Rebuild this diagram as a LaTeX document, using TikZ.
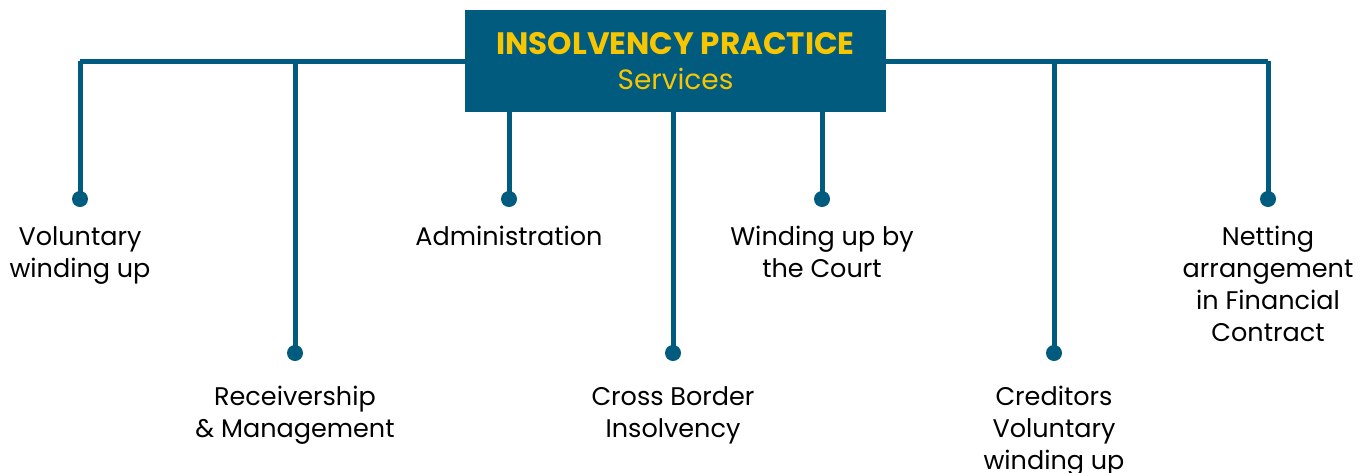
\documentclass[tikz,border=0pt]{standalone}
\usepackage{fontspec}
\setmainfont{Poppins}
\usetikzlibrary{positioning}
\definecolor{ipblue}{HTML}{005B7F}
\definecolor{ipgold}{HTML}{F7C600}
\tikzset{
  link/.style={draw=ipblue, line width=5pt},
  dot/.style={circle, fill=ipblue, minimum size=16pt, inner sep=0pt},
  lbl/.style={text=black, font=\fontsize{25.5}{32}\selectfont, align=center, inner sep=0pt}
}
\begin{document}
\begin{tikzpicture}[x=1pt, y=-1pt]
	\useasboundingbox (0,0) rectangle (1371,472);
	\draw[link] (80,61) coordinate (tl) -- (1268,61) coordinate (tr);
	\node[fill=ipblue, text=ipgold, minimum width=421pt, minimum height=102pt, inner sep=0pt, align=center,
		font=\fontsize{31}{37}\selectfont] (hd) at (675.5,61)
		{\raisebox{-2pt}{\bfseries INSOLVENCY PRACTICE}\\{\fontsize{28}{37}\selectfont Services}};
	
	\node[dot] (vw) at (80,199) {};
	\node[dot] (rm) at (295,353) {};
	\node[dot] (ad) at (509,199) {};
	\node[dot] (cb) at (673,353) {};
	\node[dot] (wc) at (822,199) {};
	\node[dot] (cv) at (1054,353) {};
	\node[dot] (na) at (1268,199) {};
	
	\draw[link] (tl) -- (vw.center);
	\draw[link] (tl -| rm) -- (rm.center);
	\draw[link] (hd.south -| ad) -- (ad.center);
	\draw[link] (hd.south -| cb) -- (cb.center);
	\draw[link] (hd.south -| wc) -- (wc.center);
	\draw[link] (tr -| cv) -- (cv.center);
	\draw[link] (tr) -- (na.center);
	
	\node[lbl, below=19pt of vw] {Voluntary\\winding up};
	\node[lbl, below=25pt of rm] {Receivership\\\& Management};
	\node[lbl, below=19pt of ad] {Administration};
	\node[lbl, below=25pt of cb] {Cross Border\\Insolvency};
	\node[lbl, below=19pt of wc] {Winding up by\\the Court};
	\node[lbl, below=25pt of cv] {Creditors\\Voluntary\\winding up};
	\node[lbl, below=19pt of na] {Netting\\arrangement\\in Financial\\Contract};
\end{tikzpicture}
\end{document}
